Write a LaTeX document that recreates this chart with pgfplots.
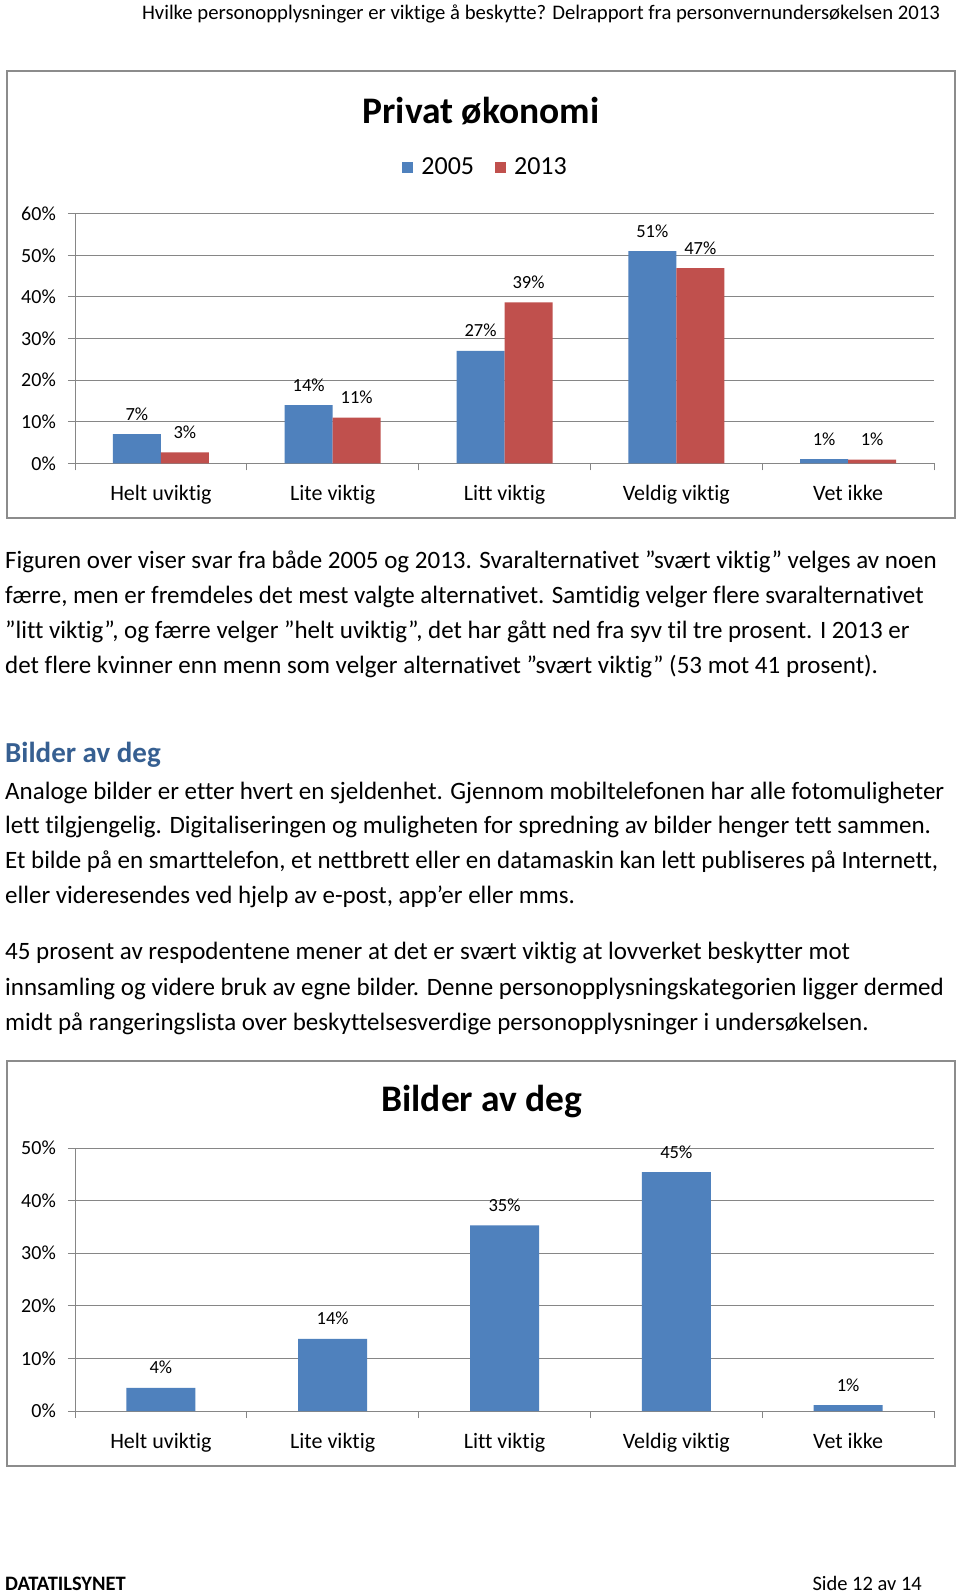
\documentclass[border=0pt]{standalone}
\usepackage{fontspec}
\setmainfont[Ligatures={TeX,NoCommon}]{Carlito}
\usepackage{pgfplots}
\pgfplotsset{compat=1.18}
\definecolor{b05}{HTML}{4F81BD}
\definecolor{r13}{HTML}{C0504D}
\definecolor{gridc}{HTML}{868686}
\definecolor{framec}{HTML}{8C8C8C}
\definecolor{headc}{HTML}{365F91}
\newcommand\fs[1]{\fontsize{#1}{#1}\selectfont}
\pgfplotsset{
  mychart/.style={
    scale only axis, width=859pt,
    xmin=-0.5, xmax=4.5, ymin=0,
    axis x line*=bottom, axis y line*=left,
    axis line style={gridc, line width=1pt, -},
    ymajorgrids, grid style={gridc, line width=1pt},
    tick align=outside, major tick length=7pt,
    tick style={gridc, line width=1pt},
    xtick={-0.5,0.5,...,4.5}, xticklabels={},
    extra x ticks={0,1,2,3,4},
    extra x tick labels={Helt uviktig,Lite viktig,Litt viktig,Veldig viktig,Vet ikke},
    extra x tick style={major tick length=0pt, grid=none},
    xticklabel style={font=\fs{22}, inner sep=0pt, anchor=base, yshift=-37pt},
    yticklabel style={font=\fs{20}, inner sep=0pt, anchor=east, xshift=-12pt},
    nodes near coords, point meta=explicit symbolic,
    nodes near coords style={font=\fs{18.5}, anchor=base, inner sep=0pt, yshift=14pt, text=black},
  }
}
\begin{document}
\begin{tikzpicture}[x=1pt,y=1pt]
\path[use as bounding box, fill=white] (0,0) rectangle (960,-1593);
% header
\node[anchor=base east, inner sep=0pt, font=\fs{20.7}] at (940,-19) {Hvilke personopplysninger er viktige å beskytte? Delrapport fra personvernundersøkelsen 2013};
% chart 1
\draw[framec, line width=1.3pt] (7,-71) rectangle (955,-518);
\node[anchor=base, inner sep=0pt, font=\fs{37.5}\bfseries] at (481,-123) {Privat økonomi};
\begin{axis}[mychart,
  at={(75pt,-463.3pt)}, anchor=south west,
  height=249.6pt, ymax=60,
  ytick={0,10,...,60}, yticklabels={0\%,10\%,20\%,30\%,40\%,50\%,60\%},
  ybar=0pt, bar width=48pt,
  legend style={at={(axis description cs:0.478,1.187)}, anchor=center, draw=none, fill=none,
    legend columns=2, font=\fs{26}, inner sep=0pt,
    /tikz/every odd column/.append style={column sep=6pt},
    /tikz/every even column/.append style={column sep=19pt}},
  legend image code/.code={\fill[#1] (0pt,-5.5pt) rectangle (11pt,5.5pt);},
]
\addplot[fill=b05, draw=none] coordinates {(0,7)[7\%] (1,14)[14\%] (2,27)[27\%] (3,51)[51\%] (4,1)[1\%]};
\addplot[fill=r13, draw=none] coordinates {(0,2.6)[3\%] (1,11)[11\%] (2,38.7)[39\%] (3,46.9)[47\%] (4,0.9)[1\%]};
\legend{2005,2013}
\end{axis}
% text
\begin{scope}[every node/.style={anchor=base west, inner sep=0pt, font=\fs{25}}]
\node at (5,-568) {Figuren over viser svar fra både 2005 og 2013. Svaralternativet ”svært viktig” velges av noen};
\node at (5,-603) {færre, men er fremdeles det mest valgte alternativet. Samtidig velger flere svaralternativet};
\node at (5,-638) {”litt viktig”, og færre velger ”helt uviktig”, det har gått ned fra syv til tre prosent. I 2013 er};
\node at (5,-673) {det flere kvinner enn menn som velger alternativet ”svært viktig” (53 mot 41 prosent).};
\node[font=\fs{29}\bfseries, text=headc] at (5,-762) {Bilder av deg};
\node at (5,-799) {Analoge bilder er etter hvert en sjeldenhet. Gjennom mobiltelefonen har alle fotomuligheter};
\node at (5,-833.5) {lett tilgjengelig. Digitaliseringen og muligheten for spredning av bilder henger tett sammen.};
\node at (5,-868.5) {Et bilde på en smarttelefon, et nettbrett eller en datamaskin kan lett publiseres på Internett,};
\node at (5,-903.5) {eller videresendes ved hjelp av e-post, app’er eller mms.};
\node at (5,-959.5) {45 prosent av respodentene mener at det er svært viktig at lovverket beskytter mot};
\node at (5,-995) {innsamling og videre bruk av egne bilder. Denne personopplysningskategorien ligger dermed};
\node at (5,-1030) {midt på rangeringslista over beskyttelsesverdige personopplysninger i undersøkelsen.};
\end{scope}
% chart 2
\draw[framec, line width=1.3pt] (7,-1061) rectangle (955,-1466);
\node[anchor=base, inner sep=0pt, font=\fs{37.5}\bfseries] at (482,-1111) {Bilder av deg};
\begin{axis}[mychart,
  at={(75pt,-1411pt)}, anchor=south west,
  height=263pt, ymax=50,
  ytick={0,10,...,50}, yticklabels={0\%,10\%,20\%,30\%,40\%,50\%},
  ybar, bar width=69pt,
]
\addplot[fill=b05, draw=none] coordinates {(0,4.4)[4\%] (1,13.7)[14\%] (2,35.3)[35\%] (3,45.4)[45\%] (4,1.1)[1\%]};
\end{axis}
% footer
\node[anchor=base west, inner sep=0pt, font=\fs{20.5}\bfseries] at (5,-1590) {DATATILSYNET};
\node[anchor=base east, inner sep=0pt, font=\fs{20.5}] at (922,-1590) {Side 12 av 14};
\end{tikzpicture}
\end{document}
